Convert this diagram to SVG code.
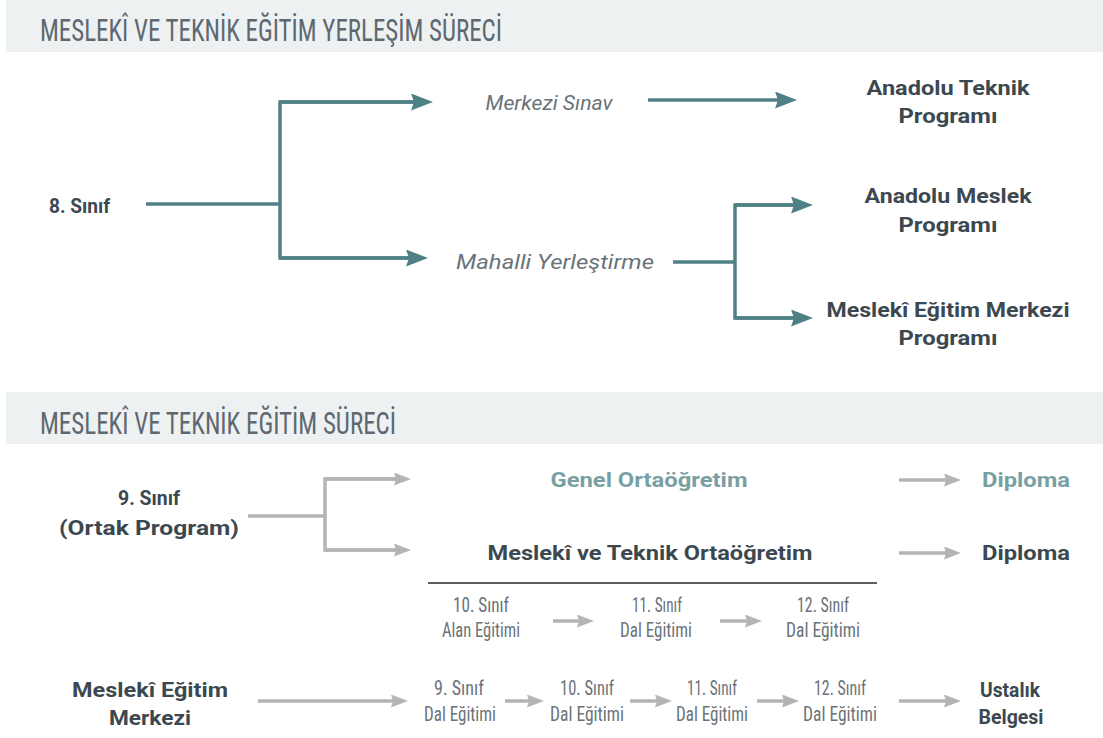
<svg xmlns="http://www.w3.org/2000/svg" width="1103" height="738" viewBox="0 0 1103 738">
  <defs>
    <marker id="ah-teal" markerUnits="userSpaceOnUse" markerWidth="24" markerHeight="18" refX="12" refY="8.5" orient="auto">
      <path d="M0,0 L22,8.5 L0,17 L3,8.5 z" fill="#4f8086"/>
    </marker>
    <marker id="ah-grey" markerUnits="userSpaceOnUse" markerWidth="18" markerHeight="14" refX="8" refY="6.5" orient="auto">
      <path d="M0,0 L17,6.5 L0,13 L2,6.5 z" fill="#b4b4b4"/>
    </marker>
  </defs>
  <style>
    .bar { fill: #eef1f2; }
    .title { font-family: "Roboto Condensed", "DejaVu Sans Condensed", "Roboto", sans-serif; font-stretch: condensed; font-size: 31px; fill: #5d6870; }
    .lbl { font-family: "Roboto", "Liberation Sans", sans-serif; font-weight: 700; font-size: 21px; fill: #3c4850; text-anchor: middle; }
    .lbl-l { font-family: "Roboto", "Liberation Sans", sans-serif; font-weight: 700; font-size: 21px; fill: #3c4850; }
    .lbl-teal { font-family: "Roboto", "Liberation Sans", sans-serif; font-weight: 700; font-size: 21px; fill: #78a0a2; text-anchor: middle; }
    .ital { font-family: "Roboto", "Liberation Sans", sans-serif; font-style: italic; font-size: 21px; fill: #6a7379; text-anchor: middle; }
    .small { font-family: "Roboto Condensed", "DejaVu Sans Condensed", "Roboto", sans-serif; font-stretch: condensed; font-size: 21px; fill: #6b7378; text-anchor: middle; }
    .teal { stroke: #4f8086; stroke-width: 3.5; fill: none; }
    .grey { stroke: #b4b4b4; stroke-width: 3.5; fill: none; }
    .rule { stroke: #5a5f63; stroke-width: 2; }
  </style>

  <g id="header1">
    <rect class="bar" x="6" y="0" width="1097" height="52"/>
    <text class="title" x="40" y="41" textLength="462" lengthAdjust="spacingAndGlyphs">MESLEKÎ VE TEKNİK EĞİTİM YERLEŞİM SÜRECİ</text>
  </g>
  <g id="header2">
    <rect class="bar" x="6" y="392" width="1097" height="52"/>
    <text class="title" x="40" y="434" textLength="356" lengthAdjust="spacingAndGlyphs">MESLEKÎ VE TEKNİK EĞİTİM SÜRECİ</text>
  </g>

  <g id="connectors">
    <polyline class="teal" points="146,204 280,204"/>
    <polyline class="teal" points="423,102 280,102 280,258 418,258"/>
    <line class="teal" x1="280" y1="102" x2="423" y2="102" marker-end="url(#ah-teal)"/>
    <line class="teal" x1="280" y1="258" x2="418" y2="258" marker-end="url(#ah-teal)"/>
    <line class="teal" x1="648" y1="100" x2="787" y2="100" marker-end="url(#ah-teal)"/>
    <polyline class="teal" points="673,262 735,262"/>
    <polyline class="teal" points="803,205 735,205 735,318 803,318"/>
    <line class="teal" x1="735" y1="205" x2="803" y2="205" marker-end="url(#ah-teal)"/>
    <line class="teal" x1="735" y1="318" x2="803" y2="318" marker-end="url(#ah-teal)"/>

    <polyline class="grey" points="248,516 325,516"/>
    <polyline class="grey" points="402,479 325,479 325,550 402,550"/>
    <line class="grey" x1="325" y1="479" x2="402" y2="479" marker-end="url(#ah-grey)"/>
    <line class="grey" x1="325" y1="550" x2="402" y2="550" marker-end="url(#ah-grey)"/>
    <line class="grey" x1="899" y1="480" x2="952" y2="480" marker-end="url(#ah-grey)"/>
    <line class="grey" x1="899" y1="553" x2="952" y2="553" marker-end="url(#ah-grey)"/>
    <line class="rule" x1="428" y1="583" x2="877" y2="583"/>
    <line class="grey" x1="553" y1="621" x2="585" y2="621" marker-end="url(#ah-grey)"/>
    <line class="grey" x1="720" y1="621" x2="753" y2="621" marker-end="url(#ah-grey)"/>

    <line class="grey" x1="258" y1="701" x2="399" y2="701" marker-end="url(#ah-grey)"/>
    <line class="grey" x1="505" y1="701" x2="535" y2="701" marker-end="url(#ah-grey)"/>
    <line class="grey" x1="630" y1="701" x2="663" y2="701" marker-end="url(#ah-grey)"/>
    <line class="grey" x1="757" y1="701" x2="790" y2="701" marker-end="url(#ah-grey)"/>
    <line class="grey" x1="899" y1="701" x2="952" y2="701" marker-end="url(#ah-grey)"/>
  </g>

  <g id="n-8sinif"><text class="lbl-l" x="49" y="213" textLength="61" lengthAdjust="spacingAndGlyphs">8. Sınıf</text></g>
  <g id="n-merkezi"><text class="ital" x="549" y="110" textLength="127" lengthAdjust="spacingAndGlyphs">Merkezi Sınav</text></g>
  <g id="n-mahalli"><text class="ital" x="555" y="269" textLength="198" lengthAdjust="spacingAndGlyphs">Mahalli Yerleştirme</text></g>
  <g id="n-anadolu-teknik">
    <text class="lbl" x="948" y="95" textLength="163" lengthAdjust="spacingAndGlyphs">Anadolu Teknik</text>
    <text class="lbl" x="948" y="123" textLength="99" lengthAdjust="spacingAndGlyphs">Programı</text>
  </g>
  <g id="n-anadolu-meslek">
    <text class="lbl" x="948" y="203" textLength="167" lengthAdjust="spacingAndGlyphs">Anadolu Meslek</text>
    <text class="lbl" x="948" y="232" textLength="99" lengthAdjust="spacingAndGlyphs">Programı</text>
  </g>
  <g id="n-mem-programi">
    <text class="lbl" x="948" y="317" textLength="243" lengthAdjust="spacingAndGlyphs">Meslekî Eğitim Merkezi</text>
    <text class="lbl" x="948" y="345" textLength="99" lengthAdjust="spacingAndGlyphs">Programı</text>
  </g>

  <g id="n-9sinif">
    <text class="lbl" x="149" y="505" textLength="62" lengthAdjust="spacingAndGlyphs">9. Sınıf</text>
    <text class="lbl" x="149" y="535" textLength="180" lengthAdjust="spacingAndGlyphs">(Ortak Program)</text>
  </g>
  <g id="n-genel"><text class="lbl-teal" x="649" y="487" textLength="197" lengthAdjust="spacingAndGlyphs">Genel Ortaöğretim</text></g>
  <g id="n-diploma1"><text class="lbl-teal" x="1026" y="487" textLength="88" lengthAdjust="spacingAndGlyphs">Diploma</text></g>
  <g id="n-mto"><text class="lbl" x="650" y="560" textLength="325" lengthAdjust="spacingAndGlyphs">Meslekî ve Teknik Ortaöğretim</text></g>
  <g id="n-diploma2"><text class="lbl" x="1026" y="560" textLength="88" lengthAdjust="spacingAndGlyphs">Diploma</text></g>

  <g id="n-mto-10">
    <text class="small" x="481" y="612" textLength="56" lengthAdjust="spacingAndGlyphs">10. Sınıf</text>
    <text class="small" x="481" y="637" textLength="78" lengthAdjust="spacingAndGlyphs">Alan Eğitimi</text>
  </g>
  <g id="n-mto-11">
    <text class="small" x="657" y="612" textLength="50" lengthAdjust="spacingAndGlyphs">11. Sınıf</text>
    <text class="small" x="656" y="637" textLength="72" lengthAdjust="spacingAndGlyphs">Dal Eğitimi</text>
  </g>
  <g id="n-mto-12">
    <text class="small" x="823" y="612" textLength="52" lengthAdjust="spacingAndGlyphs">12. Sınıf</text>
    <text class="small" x="823" y="637" textLength="74" lengthAdjust="spacingAndGlyphs">Dal Eğitimi</text>
  </g>

  <g id="n-mem">
    <text class="lbl" x="150" y="697" textLength="156" lengthAdjust="spacingAndGlyphs">Meslekî Eğitim</text>
    <text class="lbl" x="150" y="725" textLength="82" lengthAdjust="spacingAndGlyphs">Merkezi</text>
  </g>
  <g id="n-mem-9">
    <text class="small" x="459" y="695" textLength="50" lengthAdjust="spacingAndGlyphs">9. Sınıf</text>
    <text class="small" x="460" y="721" textLength="72" lengthAdjust="spacingAndGlyphs">Dal Eğitimi</text>
  </g>
  <g id="n-mem-10">
    <text class="small" x="587" y="695" textLength="54" lengthAdjust="spacingAndGlyphs">10. Sınıf</text>
    <text class="small" x="587" y="721" textLength="74" lengthAdjust="spacingAndGlyphs">Dal Eğitimi</text>
  </g>
  <g id="n-mem-11">
    <text class="small" x="712" y="695" textLength="50" lengthAdjust="spacingAndGlyphs">11. Sınıf</text>
    <text class="small" x="712" y="721" textLength="72" lengthAdjust="spacingAndGlyphs">Dal Eğitimi</text>
  </g>
  <g id="n-mem-12">
    <text class="small" x="840" y="695" textLength="52" lengthAdjust="spacingAndGlyphs">12. Sınıf</text>
    <text class="small" x="840" y="721" textLength="74" lengthAdjust="spacingAndGlyphs">Dal Eğitimi</text>
  </g>
  <g id="n-ustalik">
    <text class="lbl" x="1010" y="697" textLength="60" lengthAdjust="spacingAndGlyphs">Ustalık</text>
    <text class="lbl" x="1011" y="724" textLength="65" lengthAdjust="spacingAndGlyphs">Belgesi</text>
  </g>
</svg>
